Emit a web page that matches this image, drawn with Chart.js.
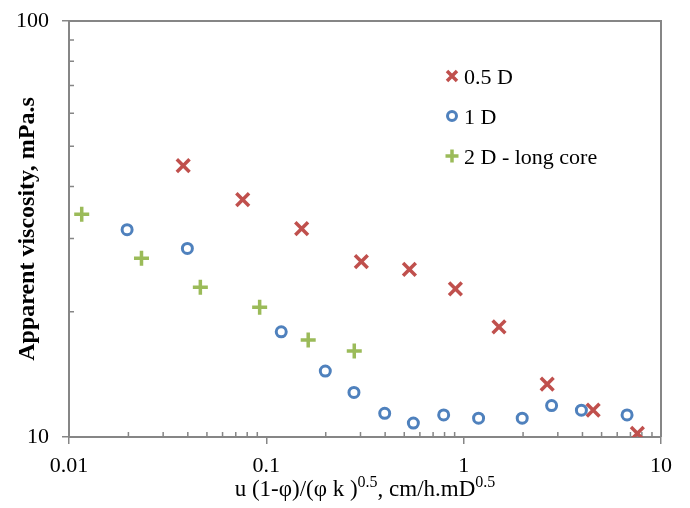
<!DOCTYPE html>
<html>
<head>
<meta charset="utf-8">
<style>
  html, body { margin: 0; padding: 0; background: #fff; }
</style>
</head>
<body>
<canvas id="myChart" width="690" height="508"></canvas>

<script src="https://cdn.jsdelivr.net/npm/chart.js"></script>

<script>
// values
const seriesNames = ['0.5 D', '1 D', '2 D - long core'];
const xHalfD = [0.0379, 0.0759, 0.151, 0.303, 0.531, 0.908, 1.51, 2.65, 4.53, 7.59];
const yHalfD = [44.9, 37.2, 31.7, 26.4, 25.3, 22.7, 18.4, 13.4, 11.6, 10.2];
const xOneD = [0.0197, 0.0398, 0.119, 0.199, 0.278, 0.398, 0.556, 0.792, 1.19, 1.98, 2.79, 3.95, 6.73];
const yOneD = [31.5, 28.4, 17.9, 14.4, 12.8, 11.4, 10.8, 11.3, 11.1, 11.1, 11.9, 11.6, 11.3];
const xTwoD = [0.0116, 0.0233, 0.0463, 0.0925, 0.163, 0.279];
const yTwoD = [34.3, 26.9, 22.9, 20.5, 17.1, 16.1];
const xTicks = [0.01, 0.1, 1, 10];
const yTicks = [10, 100];
const xMinor = [0.02, 0.03, 0.04, 0.05, 0.06, 0.07, 0.08, 0.09, 0.2, 0.3, 0.4, 0.5, 0.6, 0.7, 0.8, 0.9, 2, 3, 4, 5, 6, 7, 8, 9];
const yMinor = [20, 30, 40, 50, 60, 70, 80, 90];

const serif = "'Liberation Serif', 'Times New Roman', serif";
const axisGray = '#868686';
const colors = ['#C0504D', '#4F81BD', '#9BBB59'];

const pts = (xs, ys) => xs.map((x, i) => ({ x: x, y: ys[i] }));

// frame (top/right) and small inside ticks
const framePlugin = {
  id: 'frame',
  beforeDatasetsDraw(chart) {
    const { ctx, chartArea: a, scales } = chart;
    ctx.save();
    ctx.strokeStyle = axisGray;
    ctx.lineWidth = 2;
    ctx.beginPath();
    ctx.moveTo(a.left, a.top);
    ctx.lineTo(a.right, a.top);
    ctx.lineTo(a.right, a.bottom);
    ctx.stroke();
    ctx.lineWidth = 1.5;
    ctx.beginPath();
    xMinor.forEach(v => {
      const px = scales.x.getPixelForValue(v);
      ctx.moveTo(px, a.bottom);
      ctx.lineTo(px, a.bottom - 5);
    });
    yMinor.forEach(v => {
      const py = scales.y.getPixelForValue(v);
      ctx.moveTo(a.left, py);
      ctx.lineTo(a.left + 5, py);
    });
    ctx.stroke();
    ctx.restore();
  }
};

// axis titles, with superscripts in the x title
const titlePlugin = {
  id: 'titles',
  afterDraw(chart) {
    const { ctx, chartArea: a } = chart;
    ctx.save();
    ctx.fillStyle = '#000';
    ctx.font = 'bold 24px ' + serif;
    ctx.textAlign = 'center';
    ctx.textBaseline = 'middle';
    ctx.translate(28, (a.top + a.bottom) / 2);
    ctx.rotate(-Math.PI / 2);
    ctx.fillText('Apparent viscosity, mPa.s', 0, 0);
    ctx.restore();

    const parts = [
      ['u (1-φ)/(φ k )', false], ['0.5', true],
      [', cm/h.mD', false], ['0.5', true]
    ];
    const big = '23px ' + serif, small = '16px ' + serif;
    ctx.save();
    ctx.fillStyle = '#000';
    ctx.textBaseline = 'alphabetic';
    let total = 0;
    parts.forEach(p => { ctx.font = p[1] ? small : big; total += ctx.measureText(p[0]).width; });
    let x = (a.left + a.right) / 2 - total / 2;
    parts.forEach(p => {
      ctx.font = p[1] ? small : big;
      ctx.fillText(p[0], x, p[1] ? 487 : 496);
      x += ctx.measureText(p[0]).width;
    });
    ctx.restore();
  }
};

// legend inside the plot, top right
const legendPlugin = {
  id: 'insideLegend',
  afterDraw(chart) {
    const { ctx } = chart;
    ctx.save();
    ctx.font = '22px ' + serif;
    ctx.fillStyle = '#000';
    ctx.textBaseline = 'alphabetic';
    chart.data.datasets.forEach((ds, i) => {
      const cy = 76 + i * 40, cx = 452;
      ctx.strokeStyle = ds.borderColor;
      ctx.lineWidth = 3.5;
      ctx.beginPath();
      if (ds.pointStyle === 'crossRot') {
        ctx.moveTo(cx - 5, cy - 5); ctx.lineTo(cx + 5, cy + 5);
        ctx.moveTo(cx - 5, cy + 5); ctx.lineTo(cx + 5, cy - 5);
      } else if (ds.pointStyle === 'cross') {
        ctx.moveTo(cx - 6.5, cy); ctx.lineTo(cx + 6.5, cy);
        ctx.moveTo(cx, cy - 6.5); ctx.lineTo(cx, cy + 6.5);
      } else {
        ctx.lineWidth = 3;
        ctx.arc(cx, cy, 4.5, 0, Math.PI * 2);
      }
      ctx.stroke();
      ctx.fillText(ds.label, 464, cy + 8);
    });
    ctx.restore();
  }
};

const ctx = document.getElementById('myChart').getContext('2d');

new Chart(ctx, {
  type: 'scatter',
  data: {
    datasets: [
      {
        label: seriesNames[0],
        data: pts(xHalfD, yHalfD),
        pointStyle: 'crossRot',
        pointRadius: 9,
        borderWidth: 3.5,
        borderColor: colors[0],
        backgroundColor: colors[0]
      },
      {
        label: seriesNames[1],
        data: pts(xOneD, yOneD),
        pointStyle: 'circle',
        pointRadius: 5,
        borderWidth: 3,
        borderColor: colors[1],
        backgroundColor: 'rgba(0,0,0,0)'
      },
      {
        label: seriesNames[2],
        data: pts(xTwoD, yTwoD),
        pointStyle: 'cross',
        pointRadius: 7.5,
        borderWidth: 3.5,
        borderColor: colors[2],
        backgroundColor: colors[2]
      }
    ]
  },
  options: {
    responsive: false,
    animation: false,
    layout: { padding: { top: 21, right: 29, left: 0, bottom: 0 } },
    plugins: {
      legend: { display: false },
      tooltip: { enabled: false }
    },
    scales: {
      x: {
        type: 'logarithmic',
        min: 0.01,
        max: 10,
        afterBuildTicks: s => { s.ticks = xTicks.map(v => ({ value: v })); },
        afterFit: s => { s.height = 71; s.paddingRight = 10; },
        ticks: {
          callback: v => String(v),
          font: { family: serif, size: 22 },
          color: '#000',
          padding: 9,
          maxRotation: 0,
          autoSkip: false
        },
        grid: { drawOnChartArea: false, tickLength: 7, color: axisGray, lineWidth: 1.5 },
        border: { color: axisGray, width: 2 }
      },
      y: {
        type: 'logarithmic',
        min: 10,
        max: 100,
        afterBuildTicks: s => { s.ticks = yTicks.map(v => ({ value: v })); },
        afterFit: s => { s.width = 69; s.paddingTop = 10; s.paddingBottom = 10; },
        ticks: {
          callback: v => String(v),
          font: { family: serif, size: 22 },
          color: '#000',
          padding: 13,
          autoSkip: false
        },
        grid: { drawOnChartArea: false, tickLength: 7, color: axisGray, lineWidth: 1.5 },
        border: { color: axisGray, width: 2 }
      }
    }
  },
  plugins: [framePlugin, titlePlugin, legendPlugin]
});
</script>
</body>
</html>
